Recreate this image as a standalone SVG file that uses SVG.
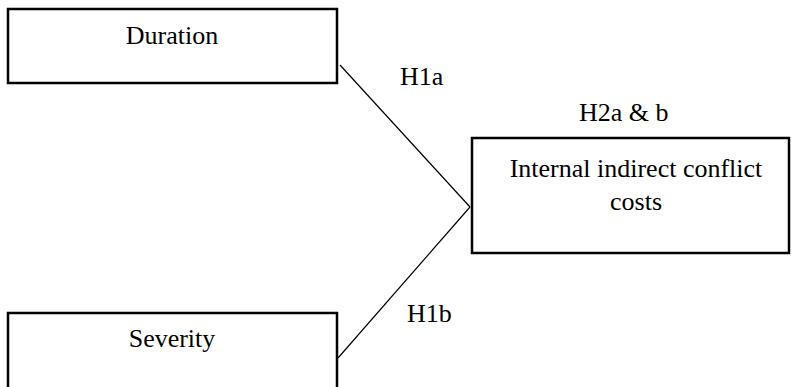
<svg xmlns="http://www.w3.org/2000/svg" width="791" height="387" viewBox="0 0 791 387">
<style>
.box{fill:#fff;stroke:#000;stroke-width:2.5}
.t{font-family:"Liberation Serif","Times New Roman",serif;font-size:26px;fill:#000}
.c{text-anchor:middle}
.ln{stroke:#000;stroke-width:1.2;fill:none}
</style>
<rect width="791" height="387" fill="#fff"/>
<g id="connectors">
<line class="ln" x1="340" y1="65" x2="470" y2="207"/>
<line class="ln" x1="470" y1="207" x2="338" y2="358"/>
<text class="t" x="400" y="85">H1a</text>
<text class="t" x="407" y="322">H1b</text>
<text class="t" x="579" y="121">H2a &amp; b</text>
</g>
<g id="duration">
<rect class="box" x="8" y="9" width="329" height="74"/>
<text class="t c" x="172" y="44">Duration</text>
</g>
<g id="internal">
<rect class="box" x="472" y="138" width="317" height="115"/>
<text class="t c" x="636" y="177">Internal indirect conflict</text>
<text class="t c" x="636" y="210">costs</text>
</g>
<g id="severity">
<rect class="box" x="8" y="313" width="329" height="90"/>
<text class="t c" x="172" y="347">Severity</text>
</g>
</svg>
